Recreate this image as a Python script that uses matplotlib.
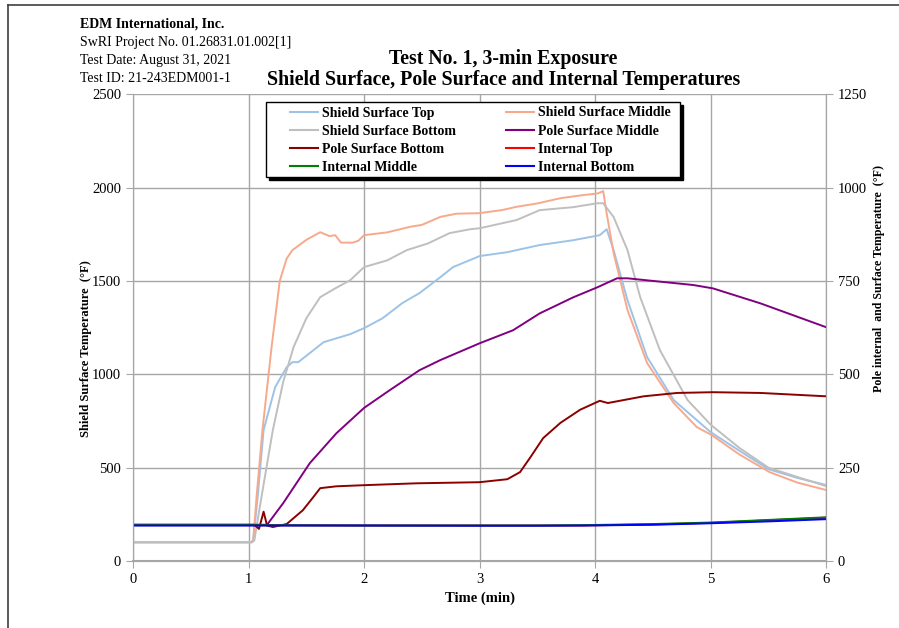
import matplotlib
matplotlib.use("Agg")
import matplotlib.pyplot as plt
from matplotlib.lines import Line2D
from matplotlib.patches import Rectangle

plt.rcParams['font.family'] = ['Liberation Serif', 'DejaVu Serif']

# shield surface series (left axis, degF)
t_top = [0, 1.02, 1.04, 1.08, 1.13, 1.23, 1.33, 1.38, 1.43, 1.65, 1.88, 2.0, 2.16, 2.33, 2.48,
         2.66, 2.77, 3.0, 3.24, 3.52, 3.81, 4.04, 4.10, 4.16, 4.28, 4.45, 4.68, 5.0, 5.25, 5.5, 5.75, 6.0]
shield_top = [100, 100, 110, 350, 701, 931, 1038, 1065, 1065, 1172, 1215, 1247, 1300, 1381, 1435,
              1520, 1574, 1633, 1654, 1692, 1718, 1745, 1777, 1665, 1397, 1092, 862, 690, 590, 492, 445, 407]

t_mid = [0, 1.02, 1.04, 1.07, 1.12, 1.2, 1.27, 1.33, 1.38, 1.5, 1.62, 1.7, 1.75, 1.8, 1.9, 1.95,
         2.0, 2.2, 2.4, 2.5, 2.66, 2.8, 3.0, 3.2, 3.32, 3.5, 3.7, 3.9, 4.02, 4.07, 4.10, 4.16,
         4.28, 4.45, 4.68, 4.88, 5.01, 5.25, 5.51, 5.75, 6.0]
shield_mid = [100, 100, 110, 350, 700, 1150, 1500, 1620, 1665, 1720, 1761, 1740, 1745, 1705, 1705, 1715,
              1745, 1760, 1790, 1800, 1843, 1860, 1863, 1880, 1897, 1915, 1943, 1960, 1968, 1981, 1861, 1649,
              1344, 1060, 846, 717, 674, 570, 476, 420, 380]

t_bot = [0, 1.03, 1.05, 1.1, 1.21, 1.3, 1.39, 1.5, 1.62, 1.75, 1.88, 2.0, 2.2, 2.37, 2.55, 2.74,
         2.92, 3.0, 3.32, 3.52, 3.81, 4.02, 4.07, 4.16, 4.28, 4.39, 4.56, 4.80, 5.0, 5.25, 5.5, 5.75, 6.0]
shield_bot = [100, 100, 110, 300, 701, 960, 1146, 1300, 1413, 1460, 1504, 1574, 1610, 1665, 1700, 1756,
              1777, 1782, 1826, 1879, 1895, 1916, 1916, 1842, 1665, 1413, 1130, 862, 730, 605, 500, 450, 401]

# pole surface series (right axis, degF)
t_pm = [0, 1.16, 1.30, 1.53, 1.76, 2.0, 2.22, 2.48, 2.66, 3.0, 3.29, 3.52, 3.81, 4.02, 4.19, 4.28,
        4.5, 4.85, 5.02, 5.43, 6.0]
pole_mid = [97, 97, 155, 262, 342, 410, 457, 511, 538, 583, 618, 663, 706, 733, 757, 757,
            750, 739, 730, 690, 626]

t_pb = [0, 1.05, 1.09, 1.13, 1.16, 1.21, 1.33, 1.47, 1.56, 1.62, 1.76, 2.0, 2.45, 3.0, 3.24, 3.35,
        3.44, 3.55, 3.70, 3.87, 4.04, 4.11, 4.42, 4.71, 5.02, 5.43, 6.0]
pole_bot = [97, 97, 86, 132, 95, 91, 99, 136, 171, 195, 200, 203, 208, 211, 219, 238,
            278, 329, 370, 405, 429, 423, 441, 450, 452, 450, 441]

# internal series (right axis, degF)
t_int = [0, 1.0, 2.0, 3.0, 3.5, 3.9, 4.5, 5.0, 5.5, 6.0]
int_top = [96, 96, 95, 95, 95, 95, 98, 102, 109, 116]
int_mid = [96, 96, 95, 95, 95, 96, 99, 103, 110, 117]
int_bot = [95, 95, 95, 94.5, 94.5, 95, 97, 101, 106, 112]

fig = plt.figure(figsize=(8.99, 6.28), dpi=100)
ax = fig.add_axes([0.148, 0.1067, 0.771, 0.7433])
ax2 = ax.twinx()

grid_c = '#a6a6a6'
ax.plot(t_top, shield_top, color='#9dc3e6', lw=1.4)
ax.plot(t_mid, shield_mid, color='#f8a98c', lw=1.4)
ax.plot(t_bot, shield_bot, color='#bfbfbf', lw=1.4)
ax2.plot(t_pm, pole_mid, color='#800080', lw=1.4)
ax2.plot(t_pb, pole_bot, color='#8b0000', lw=1.4)
ax2.plot(t_int, int_top, color='#ff0000', lw=1.4)
ax2.plot(t_int, int_mid, color='#008000', lw=1.4)
ax2.plot(t_int, int_bot, color='#0000ff', lw=1.4)

ax.set_xlim(0, 6)
ax.set_ylim(0, 2500)
ax2.set_ylim(0, 1250)
ax.set_xticks(range(7))
ax.set_yticks(range(0, 2501, 500))
ax2.set_yticks(range(0, 1251, 250))
ax.grid(True, color=grid_c, lw=1)
for a in (ax, ax2):
    for s in a.spines.values():
        s.set_color(grid_c)
    a.spines['top'].set_visible(False)
    a.tick_params(axis='both', direction='out', length=5, color=grid_c, labelsize=10.5)
ax.spines['bottom'].set_linewidth(1.5)

ax.set_xlabel('Time (min)', fontsize=10.5, fontweight='bold')
ax.set_ylabel('Shield Surface Temperature  (°F)', fontsize=9, fontweight='bold')
ax.yaxis.set_label_coords(-0.059, 0.456)
ax2.set_ylabel('Pole internal  and Surface Temperature  (°F)', fontsize=8.6, fontweight='bold')
ax2.yaxis.set_label_coords(1.067, 0.606)

fig.text(0.56, 0.906, 'Test No. 1, 3-min Exposure', ha='center', va='center', fontsize=14.3, fontweight='bold')
fig.text(0.56, 0.873, 'Shield Surface, Pole Surface and Internal Temperatures', ha='center', va='center',
         fontsize=14.3, fontweight='bold')

hdr = ['SwRI Project No. 01.26831.01.002[1]', 'Test Date: August 31, 2021', 'Test ID: 21-243EDM001-1']
fig.text(0.089, 0.962, 'EDM International, Inc.', ha='left', va='center', fontsize=10, fontweight='bold')
for i, s in enumerate(hdr):
    fig.text(0.089, 0.933 - i * 0.029, s, ha='left', va='center', fontsize=10)

# frame around the figure
fig.add_artist(Line2D([0.009, 1.0], [0.992, 0.992], color='#404040', lw=1.2, transform=fig.transFigure))
fig.add_artist(Line2D([0.009, 0.009], [0.0, 0.992], color='#404040', lw=1.2, transform=fig.transFigure))

# legend box with shadow
bx0, by0, bw, bh = 266 / 899, 1 - 177 / 628, 414 / 899, 75 / 628
fig.add_artist(Rectangle((bx0 + 3 / 899, by0 - 3 / 628), bw, bh, transform=fig.transFigure,
                         facecolor='black', edgecolor='black', zorder=3))
fig.add_artist(Rectangle((bx0, by0), bw, bh, transform=fig.transFigure,
                         facecolor='white', edgecolor='black', lw=1.0, zorder=3.5))

names = ['Shield Surface Top', 'Shield Surface Bottom', 'Pole Surface Bottom', 'Internal Middle',
         'Shield Surface Middle', 'Pole Surface Middle', 'Internal Top', 'Internal Bottom']
cols = ['#9dc3e6', '#bfbfbf', '#8b0000', '#008000', '#f8a98c', '#800080', '#ff0000', '#0000ff']
handles = [Line2D([], [], color=c, lw=1.5) for c in cols]
leg = fig.legend(handles, names, ncol=2, loc='upper left', bbox_to_anchor=(290 / 899, 1 - 106.5 / 628),
                 frameon=False, prop={'weight': 'bold', 'size': 10}, handlelength=2.0, handletextpad=0.3,
                 columnspacing=3.6, labelspacing=0.38, borderpad=0, borderaxespad=0)
leg.set_zorder(4)

fig.savefig('out.png', dpi=100)
